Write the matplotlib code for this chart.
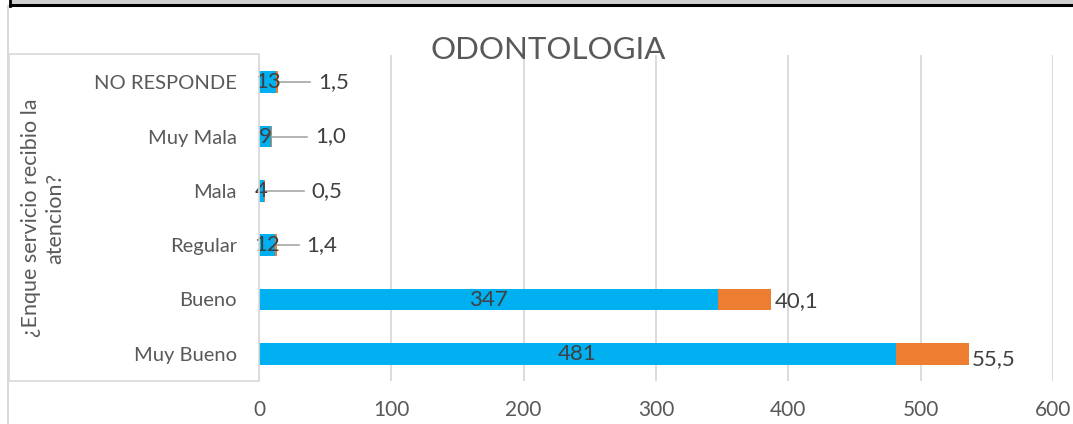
import matplotlib
matplotlib.use("Agg")
import matplotlib.pyplot as plt
from matplotlib.patches import Rectangle
from matplotlib.lines import Line2D

plt.rcParams['font.family'] = ['Lato', 'DejaVu Sans']

categories = ["Muy Bueno", "Bueno", "Regular", "Mala", "Muy Mala", "NO RESPONDE"]
counts = [481, 347, 12, 4, 9, 13]
percents = [55.5, 40.1, 1.4, 0.5, 1.0, 1.5]
x_ticks = [0, 100, 200, 300, 400, 500, 600]

# where the small percent labels sit (data units), with a leader line
callout_x = {2: 36, 3: 39.8, 4: 42.3, 5: 44.6}

BLUE = "#00B0F0"
ORANGE = "#ED7D31"
GRID = "#D9D9D9"
TXT = "#595959"
LBL = "#404040"

W, H = 1073, 424
fig = plt.figure(figsize=(W / 100, H / 100), dpi=100)

# frame bits around the chart
fig.patches.append(Rectangle((11 / W, 1 - 3.3 / H), 1, 3.3 / H, transform=fig.transFigure,
                             color="#D0CECE", zorder=0))
fig.lines.append(Line2D([10 / W, 1], [1 - 4.5 / H] * 2, transform=fig.transFigure,
                        color="black", lw=2.2))
fig.lines.append(Line2D([10 / W] * 2, [1 - 5.5 / H, 1], transform=fig.transFigure,
                        color="black", lw=2))
fig.lines.append(Line2D([8.3 / W] * 2, [0, 1 - 6 / H], transform=fig.transFigure,
                        color=GRID, lw=1.5))
fig.patches.append(Rectangle((9 / W, 1 - 381 / H), 250 / W, 327 / H, transform=fig.transFigure,
                             fill=False, edgecolor=GRID, lw=1.2))

ax = fig.add_axes([259 / W, 1 - 381 / H, (1053 - 259) / W, (381 - 55) / H])
ax.set_xlim(0, 600)
ax.set_ylim(-0.5, len(categories) - 0.5)
for s in ax.spines.values():
    s.set_visible(False)
ax.set_xticks(x_ticks)
ax.grid(axis="x", color=GRID, lw=1.3)
ax.set_axisbelow(True)
ax.set_yticks(range(len(categories)), categories)
ax.tick_params(axis="y", length=0, pad=16, labelsize=14.5, labelcolor=TXT)
ax.tick_params(axis="x", length=0, pad=14, labelsize=15, labelcolor=TXT)

ys = list(range(len(categories)))
ax.barh(ys, counts, height=0.4, color=BLUE, zorder=2)
ax.barh(ys, percents, left=counts, height=0.4, color=ORANGE, zorder=2)

for i, (c, p) in enumerate(zip(counts, percents)):
    ax.text(c / 2, i, str(c), ha="center", va="center", fontsize=16, color=LBL, zorder=4)
    lab = f"{p:.1f}".replace(".", ",")
    end = c + p
    if i in callout_x:
        lx = callout_x[i]
        ax.plot([end, lx - 6], [i, i], color="#A6A6A6", lw=1.2, zorder=3)
        ax.text(lx, i, lab, ha="left", va="center", fontsize=16, color=LBL)
    else:
        dy = -0.1 if i == 0 else -0.03
        ax.text(end + 2.3, i + dy, lab, ha="left", va="center", fontsize=16, color=LBL)

fig.text(548 / W, 1 - 50 / H, "ODONTOLOGIA", ha="center", va="center",
         fontsize=22.5, color=TXT)
fig.text(43 / W, 1 - 218 / H, "¿Enque servicio recibio la\natencion?", rotation=90,
         ha="center", va="center", multialignment="center", fontsize=15.5, color=TXT,
         linespacing=1.25)

fig.savefig("out.png", dpi=100)
